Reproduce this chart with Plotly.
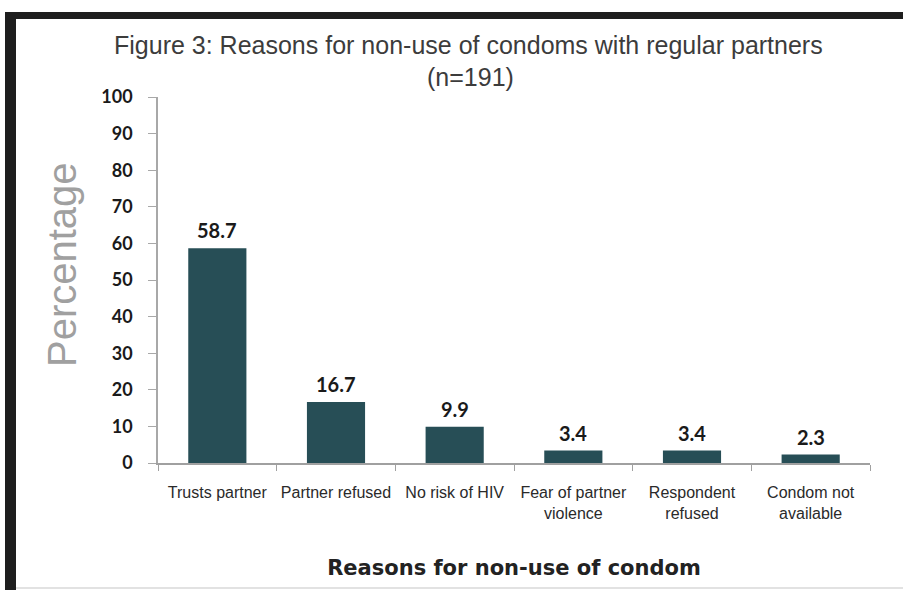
import plotly.graph_objects as go

categories = ["Trusts partner", "Partner refused", "No risk of HIV",
              "Fear of partner<br>violence", "Respondent<br>refused", "Condom not<br>available"]
values = [58.7, 16.7, 9.9, 3.4, 3.4, 2.3]
value_labels = ["58.7", "16.7", "9.9", "3.4", "3.4", "2.3"]
y_ticks = [0, 10, 20, 30, 40, 50, 60, 70, 80, 90, 100]
title_line1 = "Figure 3: Reasons for non-use of condoms with regular partners"
title_line2 = "(n=191)"
y_title = "Percentage"

L, R, T, B = 158, 33, 97, 127
W, H = 903, 590
pw, ph = W - L - R, H - T - B

def px(x):
    return (x - L) / pw

def py(y):
    return (H - B - y) / ph

fig = go.Figure(go.Bar(
    x=categories, y=values,
    marker=dict(color="#274E56", line=dict(width=0)),
))

annotations = [
    dict(x=c, y=v, xref="x", yref="y", text=t, showarrow=False,
         yanchor="bottom", yshift=4,
         font=dict(family="Lato", size=20, color="#1a1a1a", weight="bold"))
    for c, v, t in zip(categories, values, value_labels)
]
annotations += [
    dict(x=px(468), y=py(45), xref="paper", yref="paper", text=title_line1,
         showarrow=False, xanchor="center", yanchor="middle",
         font=dict(family="Liberation Sans", size=25, color="#3c3c3c")),
    dict(x=px(470), y=py(77), xref="paper", yref="paper", text=title_line2,
         showarrow=False, xanchor="center", yanchor="middle",
         font=dict(family="Liberation Sans", size=25, color="#3c3c3c")),
    dict(x=px(62), y=py(265), xref="paper", yref="paper", text=y_title,
         showarrow=False, xanchor="center", yanchor="middle", textangle=-90,
         font=dict(family="Liberation Sans", size=40, color="#a0a0a0")),
]

fig.update_layout(
    width=W, height=H,
    margin=dict(l=L, r=R, t=T, b=B),
    paper_bgcolor="white", plot_bgcolor="white",
    bargap=0.51,
    showlegend=False,
    annotations=annotations,
    xaxis=dict(
        showline=True, linecolor="#a0a0a0", linewidth=1.5,
        ticks="outside", tickson="boundaries", ticklen=6, tickcolor="#a0a0a0",
        tickangle=0, ticklabelstandoff=14,
        tickfont=dict(family="Liberation Sans", size=16, color="#2a2a2a"),
        title=dict(text="<b>Reasons for non-use of condom</b>", standoff=40,
                   font=dict(family="DejaVu Sans", size=21, color="#222222")),
    ),
    yaxis=dict(
        range=[0, 100], tickvals=y_ticks,
        showline=True, linecolor="#a8a8a8", linewidth=1.5,
        ticks="outside", ticklen=8, tickcolor="#a8a8a8",
        ticklabelstandoff=12,
        showgrid=False, zeroline=False,
        tickfont=dict(family="Lato", size=18, color="#1a1a1a", weight="bold"),
    ),
    shapes=[
        dict(type="rect", xref="paper", yref="paper",
             x0=px(5), x1=px(16), y0=py(590), y1=py(12),
             fillcolor="#1e1e1e", line=dict(width=0), layer="above"),
        dict(type="rect", xref="paper", yref="paper",
             x0=px(5), x1=px(903), y0=py(19), y1=py(12),
             fillcolor="#1e1e1e", line=dict(width=0), layer="above"),
        dict(type="line", xref="paper", yref="paper",
             x0=px(16), x1=px(903), y0=py(588), y1=py(588),
             line=dict(color="#e2e2e2", width=2)),
    ],
)

fig.write_html("out.html")
